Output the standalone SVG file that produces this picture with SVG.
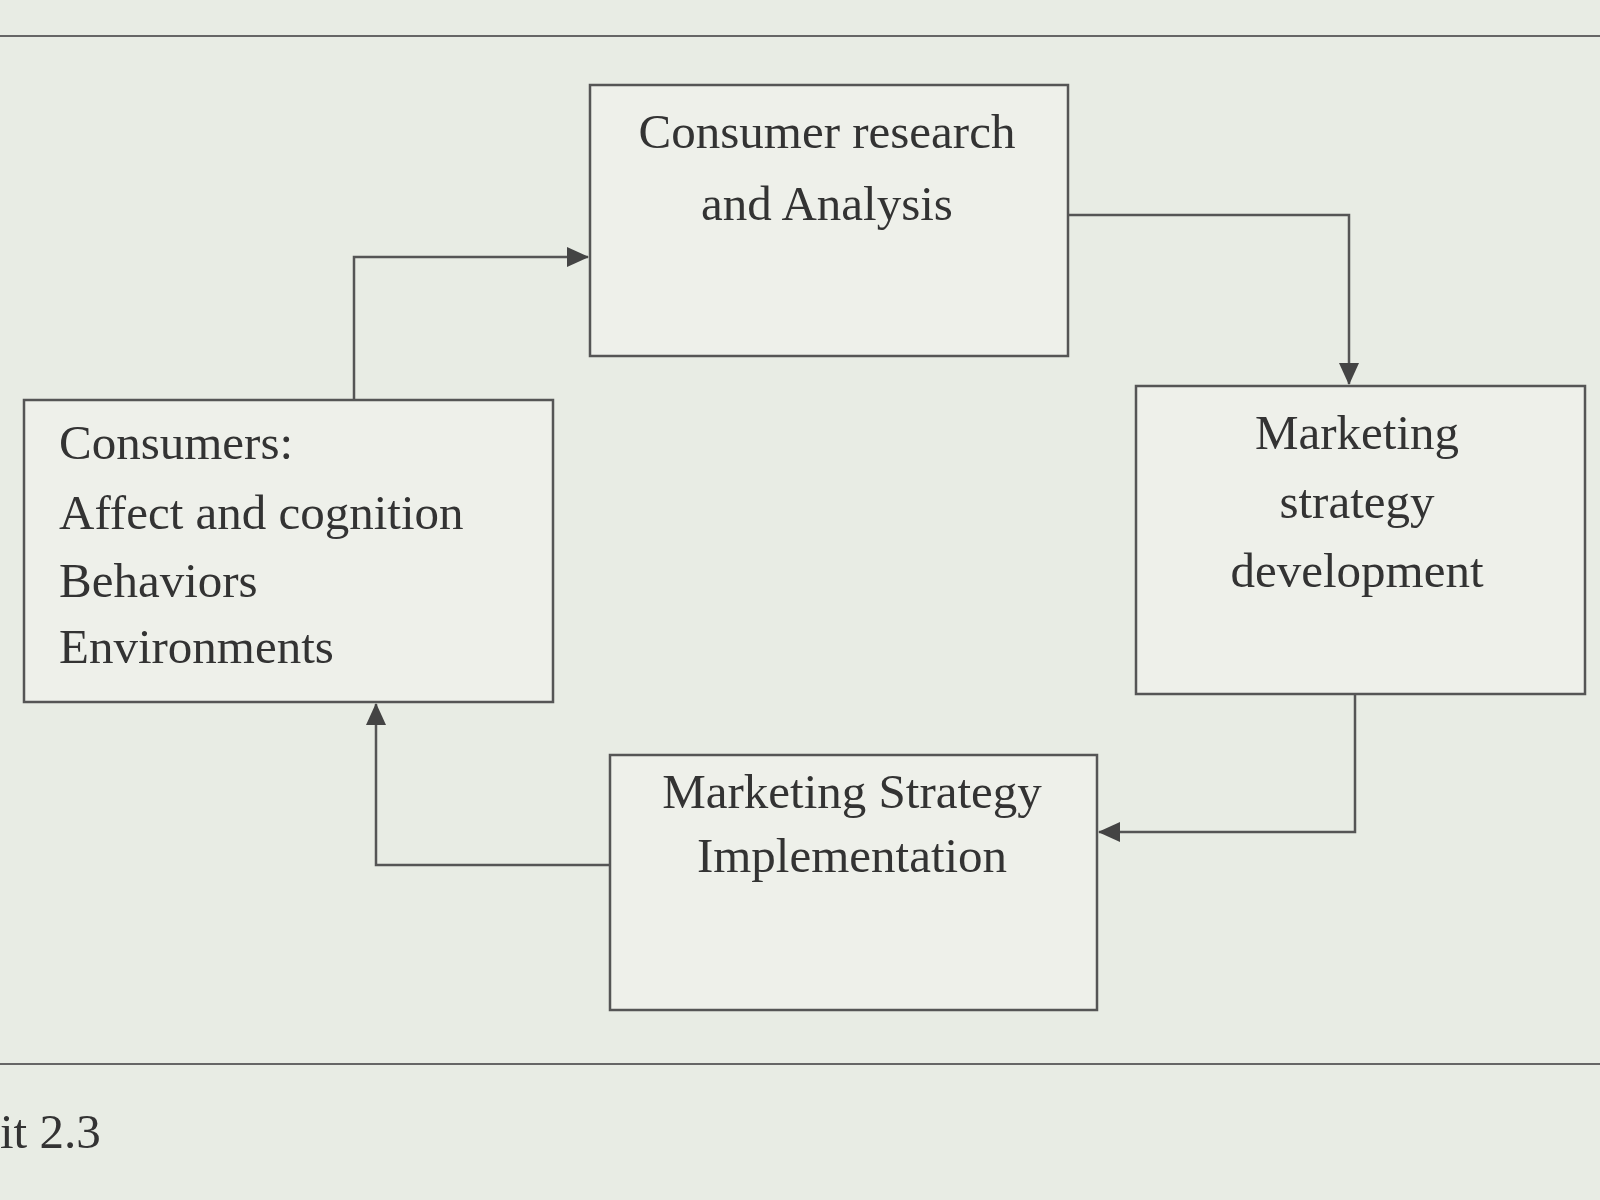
<svg xmlns="http://www.w3.org/2000/svg" width="1600" height="1200" viewBox="0 0 1600 1200">
<defs>
<style>
.box{fill:#eef0ea;stroke:#555;stroke-width:2.5}
.t{font-family:"Liberation Serif",serif;font-size:49px;fill:#333}
.c{text-anchor:middle}
.ln{fill:none;stroke:#555;stroke-width:2.5}
</style>
<marker id="a" markerWidth="22" markerHeight="20" refX="21" refY="10" orient="auto" markerUnits="userSpaceOnUse" viewBox="0 0 22 20"><path d="M0,0 L22,10 L0,20 z" fill="#444"/></marker>
</defs>
<rect width="1600" height="1200" fill="#e8ece4"/>
<line x1="0" y1="36" x2="1600" y2="36" stroke="#666" stroke-width="2"/>
<line x1="0" y1="1064" x2="1600" y2="1064" stroke="#666" stroke-width="2"/>
<text class="t" x="0" y="1148">it 2.3</text>
<g id="connectors">
<path class="ln" d="M354,400 V257 H588" marker-end="url(#a)"/>
<path class="ln" d="M1068,215 H1349 V384" marker-end="url(#a)"/>
<path class="ln" d="M1355,694 V832 H1099" marker-end="url(#a)"/>
<path class="ln" d="M610,865 H376 V704" marker-end="url(#a)"/>
</g>
<g id="research">
<rect class="box" x="590" y="85" width="478" height="271"/>
<text class="t c" x="827" y="148">Consumer research</text>
<text class="t c" x="827" y="220">and Analysis</text>
</g>
<g id="development">
<rect class="box" x="1136" y="386" width="449" height="308"/>
<text class="t c" x="1357" y="449">Marketing</text>
<text class="t c" x="1357" y="518">strategy</text>
<text class="t c" x="1357" y="587">development</text>
</g>
<g id="implementation">
<rect class="box" x="610" y="755" width="487" height="255"/>
<text class="t c" x="852" y="808">Marketing Strategy</text>
<text class="t c" x="852" y="872">Implementation</text>
</g>
<g id="consumers">
<rect class="box" x="24" y="400" width="529" height="302"/>
<text class="t" x="59" y="459">Consumers:</text>
<text class="t" x="59" y="529">Affect and cognition</text>
<text class="t" x="59" y="597">Behaviors</text>
<text class="t" x="59" y="663">Environments</text>
</g>
</svg>
